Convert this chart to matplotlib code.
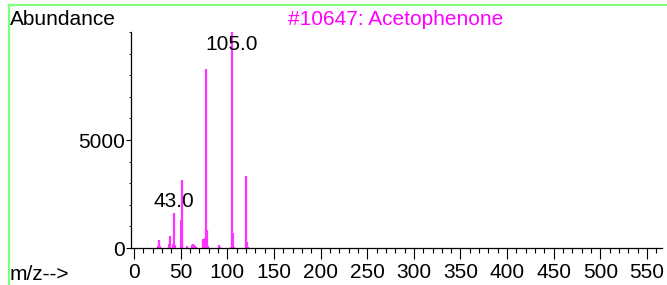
import matplotlib
matplotlib.use("Agg")
import matplotlib.pyplot as plt
from matplotlib.lines import Line2D
from matplotlib.ticker import MultipleLocator

plt.rcParams['font.family'] = ['Liberation Sans', 'DejaVu Sans']

# m/z and abundance
mz = [26, 27, 28, 37, 38, 39, 42, 43, 44, 50, 51, 52, 57, 62, 63, 64, 65,
      66, 74, 75, 76, 77, 78, 79, 91, 92, 104, 105, 106, 107, 120, 121, 122]
abundance = [100, 370, 80, 100, 200, 560, 200, 1625, 150, 1285, 3127, 300,
             80, 120, 200, 150, 100, 50, 400, 250, 450, 8297, 851, 100,
             150, 50, 50, 9999, 712, 60, 3328, 280, 30]
peak_labels = [(43, "43.0"), (105, "105.0")]
title = "#10647: Acetophenone"

FS = 15

fig = plt.figure(figsize=(6.67, 2.85), dpi=100)
ax = fig.add_axes([131 / 667, 1 - 248 / 285, 531 / 667, 216 / 285])

ax.vlines(mz, 0, abundance, color="#ff33ff", lw=1.6)

for x, txt in peak_labels:
    yy = 1700 if x == 43 else 9000
    ax.text(x, yy, txt, ha="center", va="bottom", fontsize=FS, color="black")

ax.set_xlim(-3.2, 566)
ax.set_ylim(0, 10000)
ax.xaxis.set_major_locator(MultipleLocator(50))
ax.xaxis.set_minor_locator(MultipleLocator(10))
ax.set_yticks([0, 5000])
ax.yaxis.set_minor_locator(MultipleLocator(1000))
ax.tick_params(axis="x", which="major", length=8, width=0.8, pad=3, labelsize=FS)
ax.tick_params(axis="x", which="minor", length=3.6, width=0.8)
ax.tick_params(axis="y", which="major", length=3.6, width=0.8, pad=1, labelsize=FS)
ax.tick_params(axis="y", which="minor", length=1.5, width=0.6)

for s in ["top", "right"]:
    ax.spines[s].set_visible(False)
ax.spines["left"].set_linewidth(0.9)
ax.spines["bottom"].set_linewidth(0.9)
ax.patch.set_alpha(0)

fig.text(10 / 667, 1 - 25 / 285, "Abundance", fontsize=FS, ha="left", va="baseline")
fig.text(10 / 667, 1 - 280 / 285, "m/z-->", fontsize=FS, ha="left", va="baseline")
fig.text(396 / 667, 1 - 25 / 285, title, fontsize=FS, color="#ff00ff",
         ha="center", va="baseline")

# green frame lines
fig.add_artist(Line2D([9 / 667, 1], [1 - 5 / 285] * 2, color="#80ff80", lw=1.6))
fig.add_artist(Line2D([9 / 667] * 2, [0, 1 - 5 / 285], color="#80ff80", lw=1.6))

fig.savefig("out.png", dpi=100)
